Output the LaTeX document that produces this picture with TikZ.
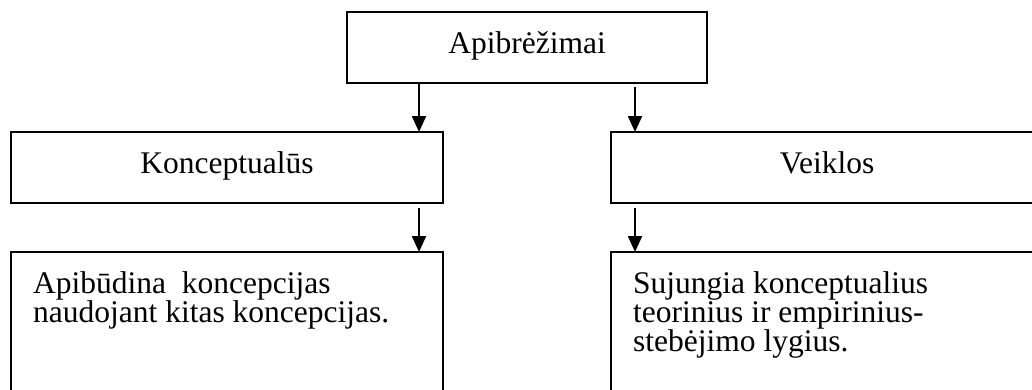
\documentclass[tikz,border=0pt]{standalone}
\usepackage{fontspec}
\setmainfont{Liberation Serif}
\usetikzlibrary{arrows.meta,calc}
\newcommand{\boxlines}[2]{\vtop{\baselineskip=29pt\lineskiplimit=-100pt\hbox{#1}\hbox{#2}}}
\newcommand{\boxlinesiii}[3]{\vtop{\baselineskip=29pt\lineskiplimit=-100pt\hbox{#1}\hbox{#2}\hbox{#3}}}
\begin{document}
\begin{tikzpicture}[x=1pt,y=-1pt,
  txt/.style={font=\fontsize{31.5}{29}\selectfont},
  box/.style={draw, line width=2pt, rectangle, inner sep=0pt, outer sep=0pt,
    minimum height=71pt, text height=20pt, text depth=9pt, txt},
  tallbox/.style={draw, line width=2pt, rectangle, inner sep=0pt, outer sep=0pt,
    minimum width=432pt, minimum height=200pt, anchor=north west},
  body/.style={txt, inner sep=0pt, anchor=base west},
  arr/.style={-{Triangle[length=16pt,width=14pt]}, line width=2.2pt}]
\useasboundingbox (0,0) rectangle (1032,389);
\clip (0,0) rectangle (1032,389);

% first and second level
\node[box, minimum width=360pt] (top) at (527,47.5) {Apibrėžimai};
\node[box, minimum width=432pt] (kon) at (227,167.5) {Konceptualūs};
\node[box, minimum width=432pt] (vei) at (827,167.5) {Veiklos};

% descriptions
\node[tallbox] (lb) at (11,252) {};
\node[tallbox] (rb) at (611,252) {};
\node[body] (lt) at ($(lb.north west)+(22,41)$)
  {\boxlines{Apibūdina\ \ koncepcijas}{naudojant kitas koncepcijas.}};
\node[body] (rt) at ($(rb.north west)+(22,41)$)
  {\boxlinesiii{Sujungia konceptualius}{teorinius ir empirinius-}{stebėjimo lygius.}};

% connectors
\coordinate (a1) at ([xshift=-24pt]kon.north east);
\coordinate (a2) at ([xshift=24pt]vei.north west);
\coordinate (b1) at ([xshift=-24pt]lb.north east);
\coordinate (b2) at ([xshift=24pt]rb.north west);
\draw[arr] (top.south -| a1) -- (a1);
\draw[arr] ([yshift=-4pt]top.south -| a2) -- (a2);
\draw[arr] ([yshift=-5pt]kon.south -| b1) -- (b1);
\draw[arr] ([yshift=-5pt]vei.south -| b2) -- (b2);
\end{tikzpicture}
\end{document}
